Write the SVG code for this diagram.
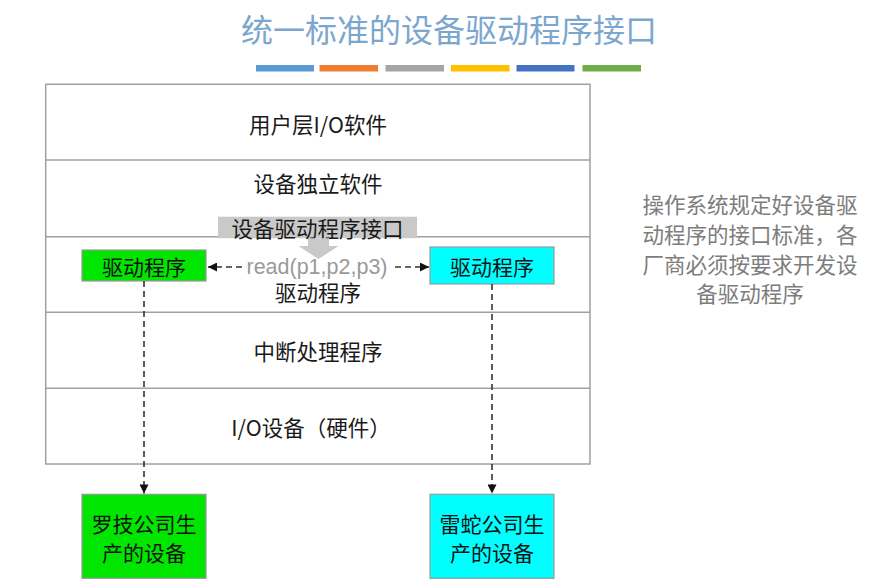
<svg xmlns="http://www.w3.org/2000/svg" width="875" height="588" viewBox="0 0 875 588">
<style>
.cjk{font-family:"Noto Sans CJK SC","Noto Sans",sans-serif;}
.row{font-size:21.5px;fill:#1a1a1a;text-anchor:middle;dominant-baseline:central;}
.box{stroke:#9a9a9a;stroke-width:1.2;}
.lbl{font-size:21px;fill:#111;text-anchor:middle;dominant-baseline:central;}
.dash{stroke:#333;stroke-width:1.6;stroke-dasharray:6 4;fill:none;}
.note{font-size:21.5px;fill:#7d7d7d;text-anchor:middle;dominant-baseline:central;}
</style>
<defs>
<marker id="ah" viewBox="0 0 10 10" refX="10" refY="5" markerWidth="10" markerHeight="9" markerUnits="userSpaceOnUse" orient="auto">
<path d="M0,0 L10,5 L0,10 Z" fill="#111"/>
</marker>
</defs>
<rect width="875" height="588" fill="#ffffff"/>
<g id="title">
<text x="449" y="28" class="cjk" font-size="32" fill="#7ba7cf" text-anchor="middle" dominant-baseline="central">统一标准的设备驱动程序接口</text>
<rect x="256" y="65" width="58" height="6.5" fill="#5b9bd5"/>
<rect x="319.5" y="65" width="58.5" height="6.5" fill="#ed7d31"/>
<rect x="385.5" y="65" width="58.5" height="6.5" fill="#a5a5a5"/>
<rect x="451" y="65" width="58.5" height="6.5" fill="#ffc000"/>
<rect x="516.5" y="65" width="58" height="6.5" fill="#4472c4"/>
<rect x="582.5" y="65" width="58.5" height="6.5" fill="#70ad47"/>
</g>
<g id="layers">
<rect x="45.7" y="84.3" width="544.3" height="379.7" fill="#fff" stroke="#a0a0a0" stroke-width="1.5"/>
<line x1="45.7" y1="160" x2="590" y2="160" stroke="#a0a0a0" stroke-width="1.5"/>
<line x1="45.7" y1="236.7" x2="590" y2="236.7" stroke="#a0a0a0" stroke-width="1.5"/>
<line x1="45.7" y1="312.3" x2="590" y2="312.3" stroke="#a0a0a0" stroke-width="1.5"/>
<line x1="45.7" y1="388.3" x2="590" y2="388.3" stroke="#a0a0a0" stroke-width="1.5"/>
<text x="318" y="123" class="cjk row">用户层I/O软件</text>
<text x="318" y="182" class="cjk row">设备独立软件</text>
<text x="318" y="291.5" class="cjk row">驱动程序</text>
<text x="318" y="350" class="cjk row">中断处理程序</text>
<text x="311" y="426.7" class="cjk row">I/O设备（硬件）</text>
</g>
<g id="interface">
<rect x="218" y="216.7" width="199" height="21.5" fill="#c9c9c9"/>
<text x="317.5" y="227.5" class="cjk row">设备驱动程序接口</text>
<polygon points="308,238.2 329,238.2 329,246 338.5,246 318.5,259 298.5,246 308,246" fill="#c9c9c9"/>
</g>
<g id="driver-left">
<rect x="82" y="250" width="124" height="31" fill="#00e600" class="box"/>
<text x="144" y="266" class="cjk lbl">驱动程序</text>
</g>
<g id="driver-right">
<rect x="430" y="247" width="124" height="37" fill="#00ffff" class="box"/>
<text x="492" y="266" class="cjk lbl">驱动程序</text>
</g>
<g id="read-label">
<text x="317" y="266.7" font-family="Liberation Sans, Arial, sans-serif" font-size="21.5" fill="#9a9a9a" text-anchor="middle" dominant-baseline="central">read(p1,p2,p3)</text>
</g>
<g id="device-left">
<rect x="82" y="494.3" width="124" height="84" fill="#00e600" class="box"/>
<text x="144" y="523" class="cjk lbl">罗技公司生</text>
<text x="144" y="551.7" class="cjk lbl">产的设备</text>
</g>
<g id="device-right">
<rect x="430" y="494.3" width="124" height="84" fill="#00ffff" class="box"/>
<text x="492" y="523" class="cjk lbl">雷蛇公司生</text>
<text x="492" y="551.7" class="cjk lbl">产的设备</text>
</g>
<g id="note">
<text x="750" y="203" class="cjk note">操作系统规定好设备驱</text>
<text x="750" y="233.5" class="cjk note">动程序的接口标准，各</text>
<text x="750" y="263" class="cjk note">厂商必须按要求开发设</text>
<text x="750" y="292.5" class="cjk note">备驱动程序</text>
</g>
<g id="connectors">
<line x1="242" y1="267" x2="208" y2="267" class="dash" marker-end="url(#ah)"/>
<line x1="395" y1="267" x2="429" y2="267" class="dash" marker-end="url(#ah)"/>
<line x1="144" y1="281" x2="144" y2="493.5" class="dash" marker-end="url(#ah)"/>
<line x1="492" y1="284" x2="492" y2="493.5" class="dash" marker-end="url(#ah)"/>
</g>
</svg>
